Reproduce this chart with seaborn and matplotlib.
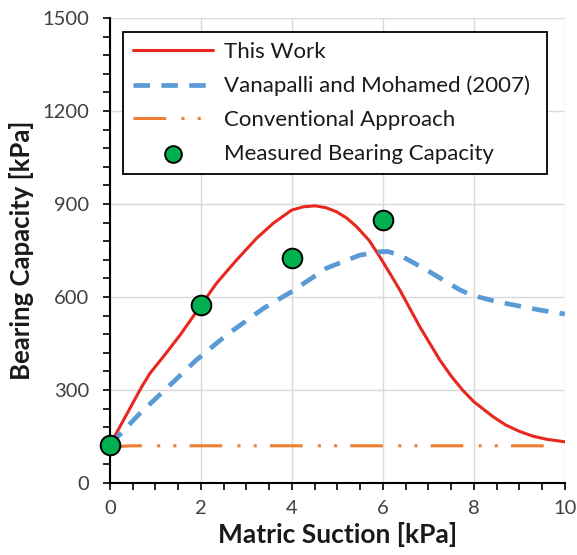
import matplotlib
matplotlib.use("Agg")
import matplotlib.pyplot as plt
import seaborn as sns
import pandas as pd
from matplotlib.ticker import MultipleLocator

sns.set_style("white")
plt.rcParams['font.family'] = ['Lato', 'DejaVu Sans']

# This Work
tw_x = [0, 0.70, 0.88, 1.17, 1.54, 1.98, 2.34, 2.78, 3.22, 3.59, 3.99, 4.25, 4.51, 4.75, 4.98, 5.20,
        5.42, 5.70, 5.93, 6.15, 6.37, 6.81, 7.25, 7.50, 7.75, 8.00, 8.42, 8.70, 9.01, 9.30, 9.60, 10.0]
tw_y = [123, 311, 354, 407, 477, 569, 644, 719, 789, 838, 880, 891, 894, 888, 875, 855,
        827, 782, 730, 677, 623, 504, 397, 345, 300, 262, 214, 187, 166, 151, 141, 133]
# Vanapalli and Mohamed (2007)
vm_x = [0, 0.66, 1.17, 1.90, 2.56, 3.37, 3.99, 4.76, 5.49, 5.93, 6.10, 6.37, 6.96, 7.69, 7.95, 8.50, 9.45, 10.0]
vm_y = [123, 225, 295, 397, 477, 563, 617, 693, 735, 746, 747, 735, 687, 623, 606, 585, 558, 545]
# Conventional Approach
ca_x = [0, 0.1, 0.2, 0.3, 0.5, 2, 4, 6, 8, 9.7]
ca_y = [105, 112, 117, 119, 120, 120, 120, 120, 120, 120]
# Measured
ms_x = [0, 2, 4, 6]
ms_y = [123, 574, 725, 848]

fig = plt.figure(figsize=(5.77, 5.55), dpi=100)
ax = fig.add_axes([0.1906, 0.1297, 0.979 - 0.1906, 0.9676 - 0.1297])

sns.lineplot(x=tw_x, y=tw_y, ax=ax, color='#E8271E', lw=2.2, label='This Work', sort=False)
ax.lines[-1].set_solid_joinstyle('round')
sns.lineplot(x=vm_x, y=vm_y, ax=ax, color='#5B9BD5', lw=3.4, label='Vanapalli and Mohamed (2007)', sort=False)
ax.lines[-1].set_dashes((3.5, 2.4))
sns.lineplot(x=ca_x, y=ca_y, ax=ax, color='#ED7D31', lw=2.2, label='Conventional Approach', sort=False)
ax.lines[-1].set_dashes((10.7, 5, 1, 4.3, 1, 4.3))
ax.lines[-1].set_dash_capstyle('butt')
sns.scatterplot(x=ms_x, y=ms_y, ax=ax, color='#00B050', edgecolor='black', linewidth=1.4, s=200,
                label='Measured Bearing Capacity', zorder=5, clip_on=False)

ax.set_xlim(0, 10)
ax.set_ylim(0, 1500)
ax.xaxis.set_major_locator(MultipleLocator(2))
ax.xaxis.set_minor_locator(MultipleLocator(0.5))
ax.yaxis.set_major_locator(MultipleLocator(300))
ax.yaxis.set_minor_locator(MultipleLocator(60))
ax.grid(True, which='major', color='#D9D9D9', lw=1.0)
ax.set_axisbelow(True)
for s in ['top', 'right']:
    ax.spines[s].set_visible(False)
for s in ['left', 'bottom']:
    ax.spines[s].set_color('black')
    ax.spines[s].set_linewidth(1.5)
ax.tick_params(axis='both', which='both', direction='out', color='black', width=1.2,
               left=True, bottom=True)
ax.tick_params(axis='both', which='major', length=5, labelsize=14.5)
ax.tick_params(axis='both', which='minor', length=5)
ax.tick_params(axis='y', which='major', pad=10)
ax.tick_params(axis='x', which='major', pad=7)
for t in ax.get_xticklabels() + ax.get_yticklabels():
    t.set_color('#404040')

ax.set_xlabel('Matric Suction [kPa]', fontsize=19, fontweight='bold', color='#1a1a1a', labelpad=4)
ax.set_ylabel('Bearing Capacity [kPa]', fontsize=18.5, fontweight='bold', color='#1a1a1a', labelpad=6)

leg = ax.legend(loc='upper left', bbox_to_anchor=(0.029, 0.97, 0.931, 0.0), mode='expand',
                frameon=True, fancybox=False, edgecolor='black', fontsize=16, handlelength=3.6,
                handletextpad=0.5, labelspacing=0.62, borderpad=0.45, markerscale=0.85,
                borderaxespad=0)
leg.get_frame().set_linewidth(1.3)
leg.get_frame().set_alpha(1)
for t in leg.get_texts():
    t.set_color('#1a1a1a')

fig.savefig('out.png', dpi=100)
